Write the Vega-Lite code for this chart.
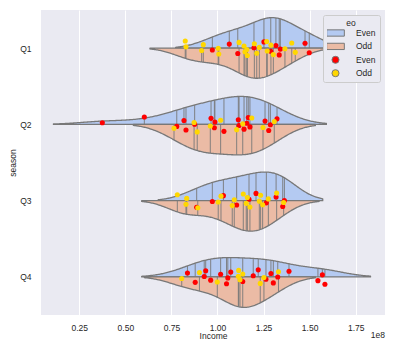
{
"$schema": "https://vega.github.io/schema/vega-lite/v6.json",
"width": 344, "height": 305,
"autosize": {"type": "none"},
"padding": {"left": 41, "top": 10, "right": 11, "bottom": 38},
"background": "white",
"title": {"text": "1e8", "orient": "bottom", "anchor": "end", "frame": "group", "offset": -2.5, "baseline": "alphabetic", "fontSize": 8.5, "fontWeight": "normal", "font": "Liberation Sans", "color": "#262626"},
"data": {"values": [
{"season":"Q1","eo":"Even","income":97200000},{"season":"Q1","eo":"Even","income":106400000},{"season":"Q1","eo":"Even","income":111000000},{"season":"Q1","eo":"Even","income":119800000},{"season":"Q1","eo":"Even","income":125200000},{"season":"Q1","eo":"Even","income":128900000},{"season":"Q1","eo":"Even","income":131700000},{"season":"Q1","eo":"Even","income":133500000},{"season":"Q1","eo":"Even","income":134100000},{"season":"Q1","eo":"Even","income":147500000},{"season":"Q1","eo":"Even","income":149800000},
{"season":"Q1","eo":"Odd","income":82900000},{"season":"Q1","eo":"Odd","income":82500000},{"season":"Q1","eo":"Odd","income":91400000},{"season":"Q1","eo":"Odd","income":92300000},{"season":"Q1","eo":"Odd","income":100700000},{"season":"Q1","eo":"Odd","income":100400000},{"season":"Q1","eo":"Odd","income":111700000},{"season":"Q1","eo":"Odd","income":114900000},{"season":"Q1","eo":"Odd","income":114400000},{"season":"Q1","eo":"Odd","income":116200000},{"season":"Q1","eo":"Odd","income":115900000},{"season":"Q1","eo":"Odd","income":120000000},{"season":"Q1","eo":"Odd","income":121300000},{"season":"Q1","eo":"Odd","income":122700000},{"season":"Q1","eo":"Odd","income":126700000},{"season":"Q1","eo":"Odd","income":127000000},{"season":"Q1","eo":"Odd","income":129000000},{"season":"Q1","eo":"Odd","income":130300000},{"season":"Q1","eo":"Odd","income":136600000},{"season":"Q1","eo":"Odd","income":140300000},{"season":"Q1","eo":"Odd","income":142200000},
{"season":"Q2","eo":"Even","income":37500000},{"season":"Q2","eo":"Even","income":60300000},{"season":"Q2","eo":"Even","income":77900000},{"season":"Q2","eo":"Even","income":81800000},{"season":"Q2","eo":"Even","income":82900000},{"season":"Q2","eo":"Even","income":87600000},{"season":"Q2","eo":"Even","income":96500000},{"season":"Q2","eo":"Even","income":98300000},{"season":"Q2","eo":"Even","income":98600000},{"season":"Q2","eo":"Even","income":103500000},{"season":"Q2","eo":"Even","income":111700000},{"season":"Q2","eo":"Even","income":111300000},{"season":"Q2","eo":"Even","income":114400000},{"season":"Q2","eo":"Even","income":115900000},{"season":"Q2","eo":"Even","income":116700000},{"season":"Q2","eo":"Even","income":117600000},{"season":"Q2","eo":"Even","income":125800000},{"season":"Q2","eo":"Even","income":127800000},{"season":"Q2","eo":"Even","income":128700000},{"season":"Q2","eo":"Even","income":132300000},
{"season":"Q2","eo":"Odd","income":76400000},{"season":"Q2","eo":"Odd","income":87300000},{"season":"Q2","eo":"Odd","income":89000000},{"season":"Q2","eo":"Odd","income":96100000},{"season":"Q2","eo":"Odd","income":101700000},{"season":"Q2","eo":"Odd","income":110400000},{"season":"Q2","eo":"Odd","income":113700000},{"season":"Q2","eo":"Odd","income":118600000},{"season":"Q2","eo":"Odd","income":124700000},{"season":"Q2","eo":"Odd","income":130800000},
{"season":"Q3","eo":"Even","income":88700000},{"season":"Q3","eo":"Even","income":97200000},{"season":"Q3","eo":"Even","income":103200000},{"season":"Q3","eo":"Even","income":110400000},{"season":"Q3","eo":"Even","income":117100000},{"season":"Q3","eo":"Even","income":120900000},{"season":"Q3","eo":"Even","income":126500000},{"season":"Q3","eo":"Even","income":131800000},{"season":"Q3","eo":"Even","income":135400000},{"season":"Q3","eo":"Even","income":136300000},
{"season":"Q3","eo":"Odd","income":78200000},{"season":"Q3","eo":"Odd","income":82900000},{"season":"Q3","eo":"Odd","income":83300000},{"season":"Q3","eo":"Odd","income":89300000},{"season":"Q3","eo":"Odd","income":100400000},{"season":"Q3","eo":"Odd","income":101900000},{"season":"Q3","eo":"Odd","income":108000000},{"season":"Q3","eo":"Odd","income":109100000},{"season":"Q3","eo":"Odd","income":114000000},{"season":"Q3","eo":"Odd","income":115600000},{"season":"Q3","eo":"Odd","income":116200000},{"season":"Q3","eo":"Odd","income":117600000},{"season":"Q3","eo":"Odd","income":122700000},{"season":"Q3","eo":"Odd","income":123400000},{"season":"Q3","eo":"Odd","income":124500000},{"season":"Q3","eo":"Odd","income":127600000},{"season":"Q3","eo":"Odd","income":132100000},{"season":"Q3","eo":"Odd","income":135900000},
{"season":"Q4","eo":"Even","income":83700000},{"season":"Q4","eo":"Even","income":87900000},{"season":"Q4","eo":"Even","income":92800000},{"season":"Q4","eo":"Even","income":93600000},{"season":"Q4","eo":"Even","income":96300000},{"season":"Q4","eo":"Even","income":101700000},{"season":"Q4","eo":"Even","income":104900000},{"season":"Q4","eo":"Even","income":105600000},{"season":"Q4","eo":"Even","income":107200000},{"season":"Q4","eo":"Even","income":113700000},{"season":"Q4","eo":"Even","income":119400000},{"season":"Q4","eo":"Even","income":122100000},{"season":"Q4","eo":"Even","income":126300000},{"season":"Q4","eo":"Even","income":129000000},{"season":"Q4","eo":"Even","income":130300000},{"season":"Q4","eo":"Even","income":132700000},{"season":"Q4","eo":"Even","income":138800000},{"season":"Q4","eo":"Even","income":154500000},{"season":"Q4","eo":"Even","income":156900000},{"season":"Q4","eo":"Even","income":158300000},
{"season":"Q4","eo":"Odd","income":80600000},{"season":"Q4","eo":"Odd","income":90200000},{"season":"Q4","eo":"Odd","income":99900000},{"season":"Q4","eo":"Odd","income":111300000},{"season":"Q4","eo":"Odd","income":111500000},{"season":"Q4","eo":"Odd","income":112200000},{"season":"Q4","eo":"Odd","income":113700000},{"season":"Q4","eo":"Odd","income":123200000},{"season":"Q4","eo":"Odd","income":125200000},{"season":"Q4","eo":"Odd","income":133100000}
]},
"layer": [
 {
  "transform": [
   {"joinaggregate": [{"op": "values", "field": "income", "as": "vals"}, {"op": "stdev", "field": "income", "as": "sd"}, {"op": "count", "as": "n"}, {"op": "min", "field": "income", "as": "mn"}, {"op": "max", "field": "income", "as": "mx"}], "groupby": ["season", "eo"]},
   {"calculate": "datum.sd * pow(datum.n, -0.2)", "as": "bw"},
   {"density": "income", "groupby": ["season", "eo", "vals", "bw", "mn", "mx", "n"], "extent": [0, 200000000], "steps": 401, "as": ["value", "dens0"]},
   {"filter": "datum.value >= datum.mn - 2 * datum.bw && datum.value <= datum.mx + 2 * datum.bw"},
   {"calculate": "[0, 1]", "as": "kinds"},
   {"flatten": ["kinds"], "as": ["kind"]},
   {"joinaggregate": [{"op": "min", "field": "value", "as": "v0"}], "groupby": ["season", "eo"]},
   {"filter": "datum.kind == 0 || datum.value == datum.v0"},
   {"calculate": "datum.kind == 0 ? [datum.value] : datum.vals", "as": "pts"},
   {"flatten": ["pts"], "as": ["p"]},
   {"calculate": "isNumber(datum.p) ? datum.p : datum.p.income", "as": "x"},
   {"flatten": ["vals"], "as": ["q"]},
   {"calculate": "exp(-0.5 * pow((datum.x - datum.q.income) / datum.bw, 2)) / (datum.bw * sqrt(2 * PI) * datum.n)", "as": "k"},
   {"aggregate": [{"op": "sum", "field": "k", "as": "dens"}], "groupby": ["season", "eo", "kind", "x"]},
   {"joinaggregate": [{"op": "max", "field": "dens", "as": "dmax"}], "groupby": ["season"]},
   {"calculate": "indexof(['Q1','Q2','Q3','Q4'], datum.season)", "as": "si"},
   {"calculate": "datum.si + (datum.eo == 'Even' ? -1 : 1) * 0.4 * datum.dens / datum.dmax", "as": "yedge"},
   {"calculate": "datum.eo", "as": "key"}
  ],
  "layer": [
   {
    "transform": [{"filter": "datum.kind == 0"}],
    "mark": {"type": "area", "stroke": "#787878", "strokeWidth": 1.3, "opacity": 1, "strokeJoin": "round"},
    "encoding": {
     "x": {"field": "x", "type": "quantitative", "title": "Income", "scale": {"domain": [4220000, 190900000], "nice": false, "zero": false}, "axis": {"values": [25000000, 50000000, 75000000, 100000000, 125000000, 150000000, 175000000], "labelExpr": "format(datum.value / 100000000, '.2f')"}},
     "y": {"field": "yedge", "type": "quantitative", "stack": null, "title": "season", "scale": {"domain": [-0.5, 3.5], "reverse": true, "nice": false, "zero": false}, "axis": {"values": [0, 1, 2, 3], "labelExpr": "['Q1','Q2','Q3','Q4'][datum.value]"}},
     "y2": {"field": "si"},
     "color": {"field": "key", "type": "nominal", "title": "eo", "scale": {"domain": ["Even", "Odd", "Even ", "Odd "], "range": ["#B4CAF2", "#EBBBA5", "#FF0000", "#FFD700"]},
      "legend": {"orient": "top-right", "offset": 5, "padding": 4, "fillColor": "#EAEAF2", "strokeColor": "#CCCCCC", "cornerRadius": 2, "titleAnchor": "middle", "titleAlign": "center", "titleFontWeight": "normal", "titleFontSize": 8.5, "labelFontSize": 8.5, "titleFont": "Liberation Sans", "labelFont": "Liberation Sans", "labelColor": "#262626", "titleColor": "#262626", "symbolSize": 50, "symbolOffset": 4, "labelOffset": 16, "clipHeight": 9, "rowPadding": 4.4, "titlePadding": 1, "symbolStrokeWidth": 1, "labelExpr": "trim(datum.label)",
       "encode": {"symbols": {"stroke": {"value": {"expr": "indexof(['Even','Odd'], datum.value) >= 0 ? '#787878' : 'transparent'"}}, "opacity": {"value": 1}}}}},
     "detail": {"field": "season"}
    }
   },
   {
    "transform": [{"filter": "datum.kind == 1"}],
    "mark": {"type": "rule", "stroke": "#787878", "strokeWidth": 0.9},
    "encoding": {
     "x": {"field": "x", "type": "quantitative", "title": "Income"},
     "y": {"field": "si", "type": "quantitative", "title": "season"},
     "y2": {"field": "yedge"}
    }
   }
  ]
 },
 {
  "transform": [
   {"window": [{"op": "row_number", "as": "rn"}]},
   {"calculate": "indexof(['Q1','Q2','Q3','Q4'], datum.season) + ((datum.rn * 0.6180339887) % 1 - 0.5) * 0.2", "as": "yj"},
   {"calculate": "datum.eo + ' '", "as": "key"}
  ],
  "mark": {"type": "point", "filled": true, "size": 26, "opacity": 1, "strokeWidth": 0},
  "encoding": {
   "x": {"field": "income", "type": "quantitative", "title": "Income"},
   "y": {"field": "yj", "type": "quantitative", "title": "season"},
   "color": {"field": "key", "type": "nominal", "title": "eo",
      "legend": {"orient": "top-right", "offset": 5, "padding": 4, "fillColor": "#EAEAF2", "strokeColor": "#CCCCCC", "cornerRadius": 2, "titleAnchor": "middle", "titleAlign": "center", "titleFontWeight": "normal", "titleFontSize": 8.5, "labelFontSize": 8.5, "titleFont": "Liberation Sans", "labelFont": "Liberation Sans", "labelColor": "#262626", "titleColor": "#262626", "symbolSize": 50, "symbolOffset": 4, "labelOffset": 16, "clipHeight": 9, "rowPadding": 4.4, "titlePadding": 1, "symbolStrokeWidth": 1, "labelExpr": "trim(datum.label)",
       "encode": {"symbols": {"stroke": {"value": {"expr": "indexof(['Even','Odd'], datum.value) >= 0 ? '#787878' : 'transparent'"}}, "opacity": {"value": 1}}}}},
   "shape": {"field": "key", "type": "nominal", "title": "eo", "scale": {"domain": ["Even", "Odd", "Even ", "Odd "], "range": ["M-2.5,-0.89H2.5V0.89H-2.5Z", "M-2.5,-0.89H2.5V0.89H-2.5Z", "circle", "circle"]},
      "legend": {"orient": "top-right", "offset": 5, "padding": 4, "fillColor": "#EAEAF2", "strokeColor": "#CCCCCC", "cornerRadius": 2, "titleAnchor": "middle", "titleAlign": "center", "titleFontWeight": "normal", "titleFontSize": 8.5, "labelFontSize": 8.5, "titleFont": "Liberation Sans", "labelFont": "Liberation Sans", "labelColor": "#262626", "titleColor": "#262626", "symbolSize": 50, "symbolOffset": 4, "labelOffset": 16, "clipHeight": 9, "rowPadding": 4.4, "titlePadding": 1, "symbolStrokeWidth": 1, "labelExpr": "trim(datum.label)",
       "encode": {"symbols": {"stroke": {"value": {"expr": "indexof(['Even','Odd'], datum.value) >= 0 ? '#787878' : 'transparent'"}}, "opacity": {"value": 1}}}}}
  }
 }
],
"config": {
 "view": {"fill": "#EAEAF2", "stroke": null},
 "font": "Liberation Sans",
 "axis": {"labelFont": "Liberation Sans", "titleFont": "Liberation Sans", "labelFontSize": 8.5, "titleFontSize": 8.5, "titleFontWeight": "normal", "labelColor": "#262626", "titleColor": "#262626", "domain": false, "ticks": false, "tickSize": 0},
 "axisX": {"grid": true, "gridColor": "#FFFFFF", "gridWidth": 1, "labelPadding": 8.4, "titlePadding": 0},
 "axisY": {"grid": false, "labelPadding": 10, "titlePadding": 2}
}
}
